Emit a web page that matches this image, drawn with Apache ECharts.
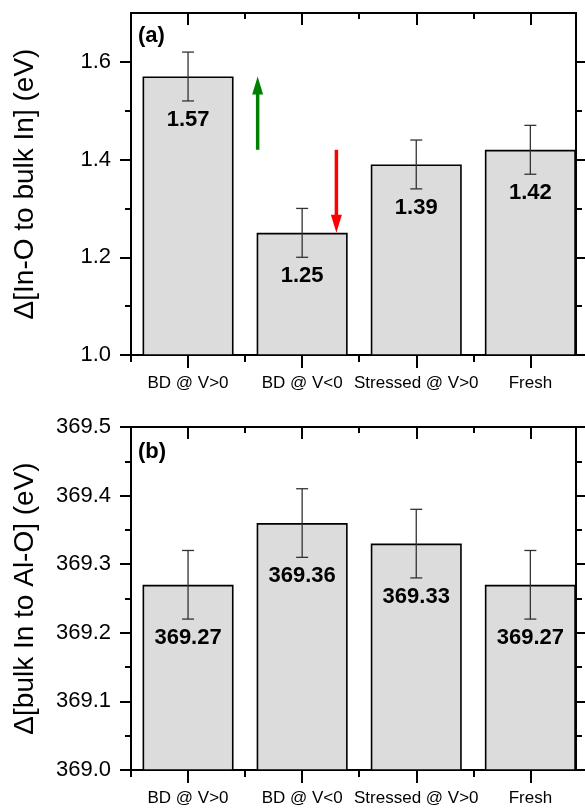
<!DOCTYPE html>
<html><head><meta charset="utf-8">
<script src="https://cdn.jsdelivr.net/npm/echarts@6/dist/echarts.min.js"></script>
<style>html,body{margin:0;padding:0;background:#fff}#c{width:585px;height:809px}</style>
</head><body><div id="c"></div>
<script>
// ---- data ----
const categories = ['BD @ V>0', 'BD @ V<0', 'Stressed @ V>0', 'Fresh'];
const catPos = [1, 2, 3, 4];
const boundaryTicks = [0.5, 1.5, 2.5, 3.5];
const valuesA = [1.57, 1.25, 1.39, 1.42];
const errorsA = [0.05, 0.05, 0.05, 0.05];
const valuesB = [369.27, 369.36, 369.33, 369.27];
const errorsB = [0.05, 0.05, 0.05, 0.05];
const ticksA = [1.0, 1.2, 1.4, 1.6];
const minorTicksA = [1.1, 1.3, 1.5];
const ticksB = [369.0, 369.1, 369.2, 369.3, 369.4, 369.5];
const minorTicksB = [369.05, 369.15, 369.25, 369.35, 369.45];
const arrowX = [1.61, 2.30];
const arrowFrom = [1.42, 1.42];
const arrowTo = [1.57, 1.25];
const nameA = 'Δ[In-O to bulk In] (eV)';
const nameB = 'Δ[bulk In to Al-O] (eV)';

// ---- chart ----
const FONT = '"Liberation Sans", Arial, sans-serif';
const chart = echarts.init(document.getElementById('c'));
const GRIDS = [{left: 131, top: 13, width: 445, height: 342}, {left: 131, top: 427, width: 445, height: 343}];

function xAxesFor(gi) {
  const h = GRIDS[gi].height;
  const mk = (extra) => Object.assign({type: 'value', gridIndex: gi, min: 0.5, max: 4.4, splitLine: {show: false}, position: 'bottom'}, extra);
  return [
    mk({axisLine: {show: true, onZero: false, lineStyle: {color: '#000', width: 2}},
      axisTick: {show: true, customValues: catPos.slice(), length: 13, lineStyle: {color: '#000', width: 2}},
      axisLabel: {show: true, customValues: catPos.slice(), margin: 20, color: '#000', fontSize: 17, fontFamily: FONT,
        formatter: v => categories[catPos.indexOf(v)] || ''}}),
    mk({offset: -h, axisLine: {show: true, onZero: false, lineStyle: {color: '#000', width: 2}},
      axisTick: {show: true, customValues: catPos.slice(), length: 12, lineStyle: {color: '#000', width: 2}},
      axisLabel: {show: false}}),
    mk({axisLine: {show: false, onZero: false},
      axisTick: {show: true, customValues: boundaryTicks.slice(), length: 7, lineStyle: {color: '#000', width: 2}},
      axisLabel: {show: false}}),
    mk({offset: -h, axisLine: {show: false, onZero: false},
      axisTick: {show: true, customValues: boundaryTicks.slice(1), length: 6, lineStyle: {color: '#000', width: 2}},
      axisLabel: {show: false}})
  ];
}
function yAxesFor(gi, min, max, ticks, minor, name) {
  const mk = (extra) => Object.assign({type: 'value', gridIndex: gi, min: min, max: max, splitLine: {show: false}}, extra);
  return [
    mk({position: 'left', axisLine: {show: true, onZero: false, lineStyle: {color: '#000', width: 2}},
      name: name, nameLocation: 'middle', nameGap: 92, nameRotate: 90,
      nameTextStyle: {fontSize: 28, color: '#000', fontFamily: FONT},
      axisTick: {show: true, customValues: ticks.slice(), length: 11, lineStyle: {color: '#000', width: 2}},
      axisLabel: {show: true, customValues: ticks.slice(), margin: 20, color: '#000', fontSize: 22, fontFamily: FONT,
        formatter: v => v.toFixed(1)}}),
    mk({position: 'right', axisLine: {show: true, onZero: false, lineStyle: {color: '#000', width: 2}},
      axisTick: {show: true, customValues: ticks.slice(), length: 11, lineStyle: {color: '#000', width: 2}},
      axisLabel: {show: false}}),
    mk({position: 'left', axisLine: {show: false, onZero: false},
      axisTick: {show: true, customValues: minor.slice(), length: 6, lineStyle: {color: '#000', width: 2}},
      axisLabel: {show: false}}),
    mk({position: 'right', axisLine: {show: false, onZero: false},
      axisTick: {show: true, customValues: minor.slice(), length: 6, lineStyle: {color: '#000', width: 2}},
      axisLabel: {show: false}})
  ];
}

function barSeries(xi, yi, values) {
  return {
    type: 'bar', xAxisIndex: xi, yAxisIndex: yi, barWidth: 91, silent: true,
    data: values.map((v, i) => [catPos[i], v]),
    itemStyle: {color: '#dcdcdc', borderColor: '#000', borderWidth: 1.6}
  };
}
function errSeries(xi, yi, values, errs) {
  return {
    type: 'custom', xAxisIndex: xi, yAxisIndex: yi, silent: true, z: 5,
    encode: {x: 0, y: 1},
    data: values.map((v, i) => [catPos[i], v, errs[i]]),
    renderItem: function (params, api) {
      const x = api.value(0), v = api.value(1), e = api.value(2);
      const t = api.coord([x, v + e]), b = api.coord([x, v - e]);
      const cap = 6, st = {stroke: '#333', lineWidth: 1.3};
      return {type: 'group', children: [
        {type: 'line', shape: {x1: t[0], y1: t[1], x2: b[0], y2: b[1]}, style: st},
        {type: 'line', shape: {x1: t[0] - cap, y1: t[1], x2: t[0] + cap, y2: t[1]}, style: st},
        {type: 'line', shape: {x1: b[0] - cap, y1: b[1], x2: b[0] + cap, y2: b[1]}, style: st},
        {type: 'text', x: b[0], y: b[1] + 19, style: {text: v.toFixed(2), fontSize: 22, fontWeight: 'bold',
          fontFamily: FONT, fill: '#000', align: 'center', verticalAlign: 'middle'}}
      ]};
    }
  };
}

const arrowSeries = {
  type: 'custom', xAxisIndex: 0, yAxisIndex: 0, silent: true, z: 6,
  encode: {x: 0, y: 1},
  data: arrowX.map((x, i) => [x, arrowFrom[i], arrowTo[i]]),
  renderItem: function (params, api) {
    const x = api.value(0);
    const p0 = api.coord([x, api.value(1)]), p1 = api.coord([x, api.value(2)]);
    const dir = p1[1] < p0[1] ? -1 : 1;
    const hl = 18, hw = 5.5;
    const color = params.dataIndex === 0 ? '#008000' : '#ff0000';
    const baseY = p1[1] - dir * hl;
    return {type: 'group', children: [
      {type: 'line', shape: {x1: p0[0], y1: p0[1], x2: p0[0], y2: baseY + dir * 2}, style: {stroke: color, lineWidth: 3.5}},
      {type: 'polygon', shape: {points: [[p1[0], p1[1]], [p1[0] - hw, baseY], [p1[0] + hw, baseY]]}, style: {fill: color}}
    ]};
  }
};

const option = {
  animation: false,
  backgroundColor: '#fff',
  grid: GRIDS,
  xAxis: xAxesFor(0).concat(xAxesFor(1)),
  yAxis: yAxesFor(0, 1.0, 1.7, ticksA, minorTicksA, nameA).concat(yAxesFor(1, 369.0, 369.5, ticksB, minorTicksB, nameB)),
  graphic: [
    {type: 'text', left: 138, top: 25, style: {text: '(a)', fontSize: 22, fontWeight: 'bold', fontFamily: FONT, fill: '#000'}},
    {type: 'text', left: 138, top: 441, style: {text: '(b)', fontSize: 22, fontWeight: 'bold', fontFamily: FONT, fill: '#000'}}
  ],
  series: [
    barSeries(0, 0, valuesA),
    errSeries(0, 0, valuesA, errorsA),
    arrowSeries,
    barSeries(4, 4, valuesB),
    errSeries(4, 4, valuesB, errorsB)
  ]
};
chart.setOption(option);
</script>
</body></html>
